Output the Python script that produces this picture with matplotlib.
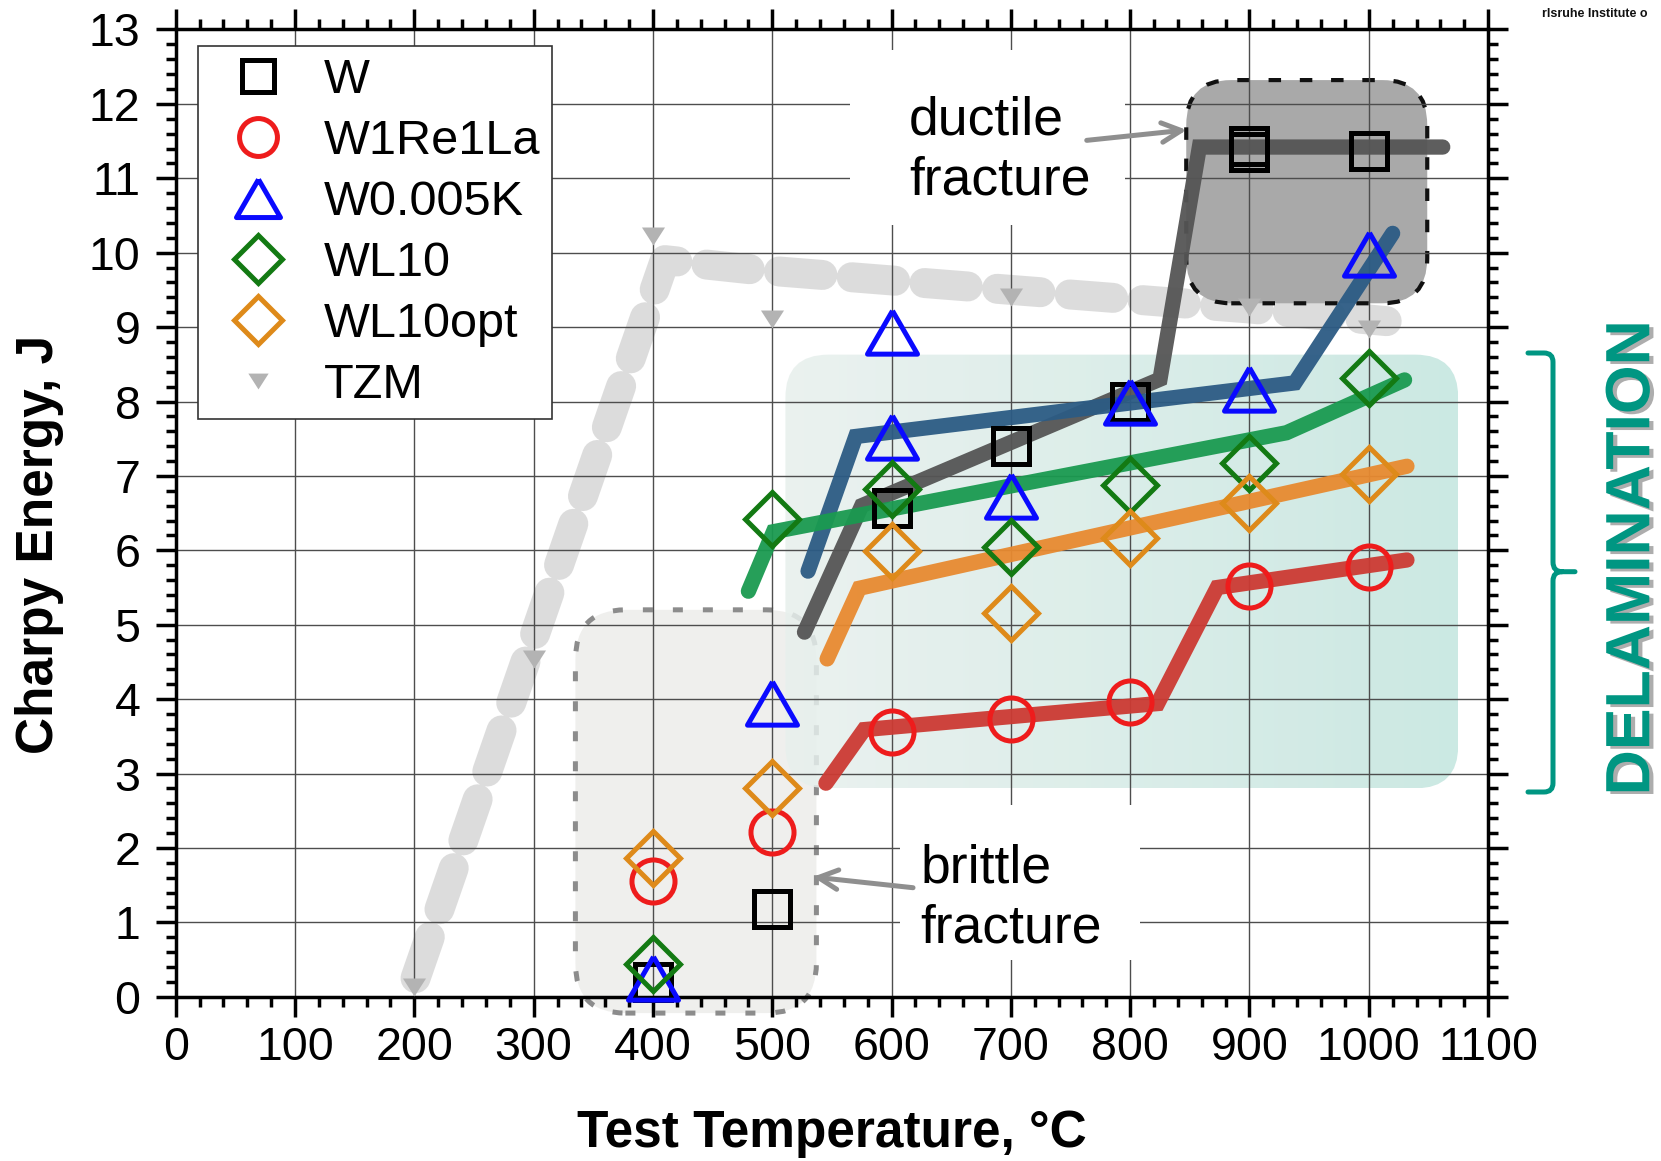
import numpy as np
import matplotlib
matplotlib.use("Agg")
import matplotlib.pyplot as plt
import matplotlib.patheffects as pe
from matplotlib import font_manager
from matplotlib.patches import FancyBboxPatch, Rectangle, FancyArrowPatch, PathPatch
from matplotlib.path import Path
from matplotlib.transforms import Affine2D
from matplotlib.ticker import MultipleLocator

plt.rcParams['font.family'] = ['Liberation Sans', 'DejaVu Sans']

# measured points (test temperature in °C, Charpy energy in J)
temps_w = [400, 500, 600, 700, 800, 900, 900, 1000]
energy_w = [0.2, 1.18, 6.57, 7.40, 8.0, 11.36, 11.44, 11.37]

temps_re = [400, 500, 600, 700, 800, 900, 1000]
energy_re = [1.55, 2.21, 3.56, 3.73, 3.96, 5.52, 5.77]

temps_k = [400, 500, 600, 600, 700, 800, 900, 1000]
energy_k = [0.25, 3.95, 8.94, 7.52, 6.73, 7.99, 8.17, 9.98]

temps_wl10 = [400, 500, 600, 700, 800, 900, 1000]
energy_wl10 = [0.44, 6.42, 6.82, 6.05, 6.88, 7.17, 8.31]

temps_opt = [400, 500, 600, 700, 800, 900, 1000]
energy_opt = [1.87, 2.81, 5.99, 5.16, 6.17, 6.63, 7.03]

temps_tzm = [200, 300, 400, 500, 700, 900, 1000]
energy_tzm = [0.13, 4.54, 10.23, 9.11, 9.40, 9.27, 8.98]

# hand-drawn trend lines
trend_tzm_x = [201, 410, 480, 700, 900, 1015]
trend_tzm_y = [0.25, 9.9, 9.78, 9.5, 9.25, 9.08]
trend_w_x = [527, 575, 825, 858, 1062]
trend_w_y = [4.9, 6.6, 8.3, 11.42, 11.42]
trend_k_x = [530, 570, 938, 1020]
trend_k_y = [5.72, 7.53, 8.25, 10.26]
trend_wl10_x = [480, 501, 931, 1030]
trend_wl10_y = [5.45, 6.25, 7.58, 8.29]
trend_opt_x = [546, 573, 1032]
trend_opt_y = [4.54, 5.49, 7.13]
trend_re_x = [545, 577, 823, 873, 1032]
trend_re_y = [2.87, 3.59, 3.94, 5.5, 5.87]

# highlighted regions (x0, x1, y0, y1)
brittle_box = (335, 537, -0.22, 5.2)
delam_box = (511, 1075, 2.8, 8.63)
ductile_box = (847, 1049, 9.32, 12.32)

W_PX, H_PX = 1661, 1161
fig = plt.figure(figsize=(W_PX / 100, H_PX / 100), dpi=100)
ax = fig.add_axes([0.1058, 0.1415, 0.7901, 0.8331])

pos = ax.get_position()
sx = pos.width * W_PX / 1100   # px per °C
sy = pos.height * H_PX / 13    # px per J


def rounded_box(box, r_px, **kw):
    x0, x1, y0, y1 = box
    return FancyBboxPatch((x0, y0), x1 - x0, y1 - y0,
                          boxstyle=f"round,pad=0,rounding_size={r_px / sx}",
                          mutation_aspect=sx / sy, **kw)


# brittle region
ax.add_patch(rounded_box(brittle_box, 50, facecolor='#efefed', edgecolor='#8c8c8c',
                         lw=3.6, ls=(0, (2, 4)), zorder=0.3, clip_on=False))

# delamination region with gradient
delam_patch = rounded_box(delam_box, 43, facecolor='none', edgecolor='none', zorder=0.35)
ax.add_patch(delam_patch)
g = np.linspace(0, 1, 256)
c_left = np.array([232, 240, 237]) / 255
c_right = np.array([194, 229, 222]) / 255
grad = c_left[None, None, :] * (1 - g)[None, :, None] + c_right[None, None, :] * g[None, :, None]
im = ax.imshow(grad, extent=[delam_box[0], delam_box[1], delam_box[2], delam_box[3]],
               aspect='auto', zorder=0.35, alpha=0.85, interpolation='bilinear')
im.set_clip_path(delam_patch)

# TZM trend (under the ductile box)
ax.plot(trend_tzm_x, trend_tzm_y, color='#d9d9d9', lw=21.6, dashes=(1.45, 0.98),
        dash_capstyle='round', dash_joinstyle='round', zorder=0.38, alpha=0.9)

# ductile region
ax.add_patch(rounded_box(ductile_box, 45, facecolor='#a9a9a9', edgecolor='#111111',
                         lw=3, ls=(0, (3, 4.5)), zorder=0.45))

ax.set_xlim(0, 1100)
ax.set_ylim(0, 13)

# trend lines
trend_kw = dict(lw=11, solid_capstyle='round', solid_joinstyle='miter', zorder=2, alpha=0.95)
ax.plot(trend_w_x, trend_w_y, color='#555555', **trend_kw)
ax.plot(trend_k_x, trend_k_y, color='#2c5b84', **trend_kw)
ax.plot(trend_wl10_x, trend_wl10_y, color='#1a9a50', **trend_kw)
ax.plot(trend_opt_x, trend_opt_y, color='#e88a30', **trend_kw)
ax.plot(trend_re_x, trend_re_y, color='#cc3a33', **trend_kw)

# markers
tri_up = [(0, 0.433), (-0.5, -0.433), (0.5, -0.433), (0, 0.433)]
tri_down = [(-0.5, 0.39), (0.5, 0.39), (0, -0.39), (-0.5, 0.39)]
mk = dict(ls='none', mfc='none', mew=3.6, zorder=3, clip_on=False)
ax.plot(temps_w, energy_w, marker='s', ms=26, mec='black', label='W', **mk)
ax.plot(temps_re, energy_re, marker='o', ms=31, mec='#ee1c1c', label='W1Re1La', **mk)
ax.plot(temps_k, energy_k, marker=tri_up, ms=36, mec='#0a0aff', label='W0.005K', **mk)
ax.plot(temps_wl10, energy_wl10, marker='D', ms=27.5, mec='#137a13', label='WL10', **mk)
ax.plot(temps_opt, energy_opt, marker='D', ms=27.5, mec='#de8a1a', label='WL10opt', **mk)
ax.plot(temps_tzm, energy_tzm, ls='none', marker=tri_down, ms=16.6, mfc='#b3b3b3',
        mec='none', zorder=3, clip_on=False, label='TZM')

# grid, ticks, spines
ax.set_axisbelow(True)
ax.grid(True, which='major', color='#4d4d4d', lw=1.0)
ax.xaxis.set_major_locator(MultipleLocator(100))
ax.xaxis.set_minor_locator(MultipleLocator(20))
ax.yaxis.set_major_locator(MultipleLocator(1))
ax.yaxis.set_minor_locator(MultipleLocator(0.2))
ax.tick_params(which='both', direction='out', top=True, right=True, width=2.5,
               labelsize=33.5, colors='black')
ax.tick_params(which='major', length=14.4)
ax.tick_params(which='minor', length=7.2)
ax.tick_params(axis='x', pad=7)
ax.tick_params(axis='y', pad=11)
for s in ax.spines.values():
    s.set_linewidth(2.5)

ax.set_xlabel('Test Temperature, °C', fontsize=37, fontweight='bold')
ax.set_ylabel('Charpy Energy, J', fontsize=37, fontweight='bold')
ax.xaxis.set_label_coords(0.5, -0.1157)
ax.yaxis.set_label_coords(-0.085, 0.468)

# annotation texts with white backing (baseline given for the last line)
ax.add_patch(Rectangle((565, 10.37), 231, 2.35, facecolor='white', edgecolor='none', zorder=0.6))
ax.add_patch(Rectangle((607, 0.5), 201, 2.08, facecolor='white', edgecolor='none', zorder=0.6))
ax.text(614.5, 10.78, 'ductile\nfracture', fontsize=38.5, ha='left', va='baseline',
        linespacing=1.25, zorder=4)
ax.text(624, 0.726, 'brittle\nfracture', fontsize=38.5, ha='left', va='baseline',
        linespacing=1.25, zorder=4)

arrow_kw = dict(arrowstyle='->,head_length=0.7,head_width=0.35', mutation_scale=20,
                lw=3.6, color='#8f8f8f', shrinkA=0, shrinkB=0, zorder=4)
ax.add_patch(FancyArrowPatch((763.6, 11.51), (847.4, 11.65), **arrow_kw))
ax.add_patch(FancyArrowPatch((618, 1.465), (534, 1.61), **arrow_kw))

leg = ax.legend(loc='upper left', bbox_to_anchor=(0.017, 0.983), borderaxespad=0,
                fontsize=35, frameon=True, fancybox=False, framealpha=1,
                edgecolor='#333333', borderpad=0.24, labelspacing=0.33,
                handlelength=1.98, handletextpad=0.37, markerscale=0.88)
leg.get_frame().set_linewidth(1.2)
leg.set_zorder(5)

# delamination bracket (figure pixel coordinates, origin top-left)
to_fig = Affine2D().scale(1 / W_PX, -1 / H_PX).translate(0, 1) + fig.transFigure
verts = [(1528, 353), (1544, 353), (1553, 353), (1553, 362), (1553, 562),
         (1553, 571.7), (1562, 571.7), (1575, 571.7),
         (1562, 571.7), (1553, 571.7), (1553, 581), (1553, 783),
         (1553, 792), (1544, 792), (1528, 792)]
codes = [Path.MOVETO, Path.LINETO, Path.CURVE3, Path.CURVE3, Path.LINETO,
         Path.CURVE3, Path.CURVE3, Path.LINETO,
         Path.MOVETO, Path.CURVE3, Path.CURVE3, Path.LINETO,
         Path.CURVE3, Path.CURVE3, Path.LINETO]
fig.patches.append(PathPatch(Path(verts, codes), transform=to_fig, fill=False,
                             edgecolor='#009682', lw=3.6, capstyle='round'))

# condensed bold face if there is one, then fit the word to its length in the reference
delam_family = ['Liberation Sans', 'DejaVu Sans']
try:
    f = font_manager.findfont(font_manager.FontProperties(family='Liberation Sans Narrow',
                                                          weight='bold'),
                              fallback_to_default=False)
    if 'Narrow' in f:
        delam_family = ['Liberation Sans Narrow', 'Liberation Sans', 'DejaVu Sans']
except ValueError:
    pass
delam = fig.text(0.983, 0.5198, 'DELAMINATION', rotation=90, ha='center', va='center',
                 fontsize=47, fontweight='bold', family=delam_family, color='#009682',
                 path_effects=[pe.withSimplePatchShadow(offset=(3, -2),
                                                        shadow_rgbFace='#777777', alpha=0.6)])
fig.canvas.draw()
ext = delam.get_window_extent()
delam.set_fontsize(47 * 475 / ext.height)

fig.text(1542 / W_PX, 1 - 14 / H_PX, 'rlsruhe Institute o', fontsize=9,
         fontweight='bold', ha='left', va='center', color='#111111')

fig.savefig('out.png', dpi=100)
